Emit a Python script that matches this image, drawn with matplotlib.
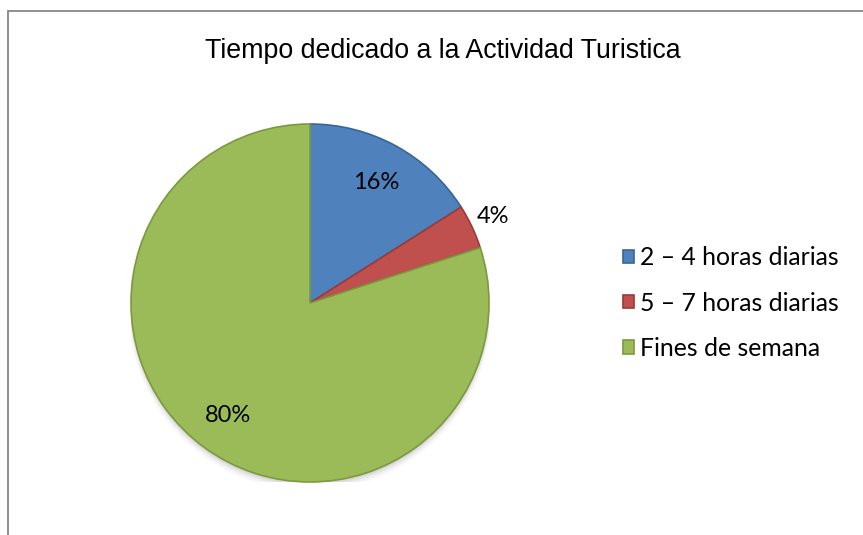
import matplotlib
matplotlib.use("Agg")
import matplotlib.pyplot as plt
from matplotlib.patches import Rectangle
import numpy as np

title = "Tiempo dedicado a la Actividad Turistica"
categories = ["2 – 4 horas diarias", "5 – 7 horas diarias", "Fines de semana"]
values = [16, 4, 80]
labels_pct = ["16%", "4%", "80%"]
colors = ["#4F81BD", "#C0504D", "#9BBB59"]
edge_colors = ["#3A6599", "#9A3B38", "#7A9A3E"]
label_dist = [0.77, 1.13, 0.78]

W, H = 863, 535
fig = plt.figure(figsize=(W / 100, H / 100), dpi=100)
fig.patch.set_facecolor("white")

# chart border (extends beyond the right and bottom edges)
fig.add_artist(Rectangle((7.5 / W, -0.05), 1.2, (H - 10.5) / H + 0.05,
                         transform=fig.transFigure, fill=False,
                         edgecolor="#878787", linewidth=1.3))

cx, cy, r = 310, H - 303, 179
ax = fig.add_axes([(cx - r) / W, (cy - r) / H, 2 * r / W, 2 * r / H])

# soft shadow
for i, a in enumerate(np.linspace(0.05, 0.01, 5)):
    ax.add_patch(plt.Circle((0.0, -0.015 - 0.006 * i), 1.0 + 0.004 * i,
                            color="black", alpha=a, zorder=0, linewidth=0))

wedges, _ = ax.pie(values, colors=colors, startangle=90, counterclock=False,
                   radius=1.0, frame=False,
                   wedgeprops=dict(linewidth=1.2))
for w, ec in zip(wedges, edge_colors):
    w.set_edgecolor(ec)
    w.set_zorder(2)

for w, lab, d in zip(wedges, labels_pct, label_dist):
    ang = np.deg2rad((w.theta1 + w.theta2) / 2)
    ax.text(d * np.cos(ang), d * np.sin(ang), lab, ha="center", va="center",
            fontsize=17, family="Lato", color="black", zorder=5)

ax.set_xlim(-1, 1)
ax.set_ylim(-1, 1)
ax.set_aspect("equal")
ax.axis("off")

fig.text(443 / W, 1 - 51 / H, title, ha="center", va="center",
         fontsize=19.3, family="Liberation Sans", color="black")

leg = fig.legend(wedges, categories, loc="upper left",
                 bbox_to_anchor=(611 / W, 1 - 234 / H),
                 frameon=False, prop=dict(family="Lato", size=17.8),
                 handlelength=0.45, handleheight=0.45, handletextpad=0.22,
                 labelspacing=0.9, borderpad=0)

fig.savefig("out.png", dpi=100, facecolor="white")
